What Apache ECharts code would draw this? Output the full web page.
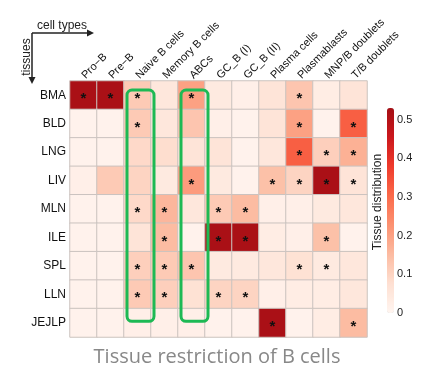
<!DOCTYPE html>
<html><head><meta charset="utf-8">
<script src="https://cdn.jsdelivr.net/npm/echarts@6/dist/echarts.min.js"></script>
<style>html,body{margin:0;padding:0;background:#fff}#c{width:421px;height:387px}</style>
</head><body><div id="c"></div>
<script>
const tissues = ['BMA','BLD','LNG','LIV','MLN','ILE','SPL','LLN','JEJLP'];
const cellTypes = ['Pro\u2212B','Pre\u2212B','Naive B cells','Memory B cells','ABCs','GC_B (I)','GC_B (II)','Plasma cells','Plasmablasts','MNP/B doublets','T/B doublets'];
// values per tissue (columns follow cellTypes)
const BMA   = [0.52,0.52,0.12,0.05,0.20,0.04,0.02,0.06,0.13,0.03,0.06];
const BLD   = [0.01,0.01,0.12,0.05,0.13,0.02,0.01,0.06,0.20,0.01,0.32];
const LNG   = [0.01,0.01,0.09,0.08,0.06,0.06,0.01,0.05,0.32,0.11,0.17];
const LIV   = [0.02,0.12,0.10,0.04,0.21,0.04,0.01,0.14,0.10,0.52,0.06];
const MLN   = [0.01,0.01,0.09,0.16,0.05,0.12,0.15,0.02,0.02,0.04,0.05];
const ILE   = [0.01,0.01,0.06,0.15,0.01,0.52,0.52,0.03,0.02,0.14,0.01];
const SPL   = [0.01,0.01,0.11,0.12,0.13,0.04,0.04,0.05,0.07,0.04,0.05];
const LLN   = [0.01,0.01,0.12,0.11,0.07,0.10,0.10,0.02,0.03,0.03,0.05];
const JEJLP = [0.01,0.01,0.02,0.02,0.02,0.01,0.01,0.52,0.01,0.03,0.15];
const values = [BMA,BLD,LNG,LIV,MLN,ILE,SPL,LLN,JEJLP];
// significant cells (column indices) per tissue
const stars = [[0,1,2,4,8],[2,8,10],[8,9,10],[4,7,8,9,10],[2,3,5,6],[3,5,6,9],[2,3,4,8,9],[2,3,5,6],[7,10]];
const colorbarTicks = [0,0.1,0.2,0.3,0.4,0.5];
const highlightCols = [2,4];

const data = [];
values.forEach((row,r)=>row.forEach((v,c)=>data.push([c,r,v])));
const starSet = new Set();
stars.forEach((cols,r)=>cols.forEach(c=>starSet.add(c+'_'+r)));

const FONT = 'Liberation Sans';
const chart = echarts.init(document.getElementById('c'));
const option = {
  animation:false,
  backgroundColor:'#fff',
  grid:[
    {left:70, top:81, width:297, height:256},
    {left:387, top:108, width:7, height:205}
  ],
  xAxis:[
    {type:'category', data:cellTypes, position:'top', gridIndex:0,
     axisLine:{show:false}, axisTick:{show:false}, splitLine:{show:false},
     axisLabel:{rotate:-45, interval:0, fontSize:11, color:'#111', fontFamily:FONT, margin:4}},
    {type:'value', gridIndex:1, show:false}
  ],
  yAxis:[
    {type:'category', data:tissues, inverse:true, gridIndex:0,
     axisLine:{show:false}, axisTick:{show:false}, splitLine:{show:false},
     axisLabel:{fontSize:12, color:'#111', fontFamily:FONT, margin:4}},
    {type:'value', gridIndex:1, position:'right', min:0, max:0.53, interval:0.1,
     axisLine:{show:false}, axisTick:{show:false}, splitLine:{show:false},
     axisLabel:{fontSize:11, color:'#222', fontFamily:FONT, margin:3, showMaxLabel:false,
       formatter:v=>{const t=colorbarTicks.find(x=>Math.abs(x-v)<1e-6);return t===undefined?'':String(t);}}}
  ],
  visualMap:{
    type:'continuous', min:0, max:0.53, seriesIndex:0, calculable:false,
    left:387, top:108, itemWidth:7, itemHeight:205, padding:0, text:['',''], showLabel:false,
    inRange:{color:['#fff5f0','#fee0d2','#fcbba1','#fc9272','#fb6a4a','#ef3b2c','#cb181d','#a50f15']}
  },
  series:[
    {type:'heatmap', data:data, xAxisIndex:0, yAxisIndex:0,
     itemStyle:{borderColor:'#cbc3bf', borderWidth:1},
     label:{show:true, formatter:p=>starSet.has(p.value[0]+'_'+p.value[1])?'*':'',
            fontSize:15, fontWeight:'bold', color:'#111', fontFamily:FONT, offset:[0,4]},
     emphasis:{disabled:true}},
    {type:'scatter', data:[], xAxisIndex:1, yAxisIndex:1}
  ],
  graphic:[
    {type:'line', shape:{x1:32,y1:33,x2:90,y2:33}, style:{stroke:'#222', lineWidth:1.5}},
    {type:'polygon', shape:{points:[[94,33],[87,29.5],[87,36.5]]}, style:{fill:'#222'}},
    {type:'line', shape:{x1:32,y1:33,x2:32,y2:80}, style:{stroke:'#222', lineWidth:1.5}},
    {type:'polygon', shape:{points:[[32,84],[28.5,77],[35.5,77]]}, style:{fill:'#222'}},
    {type:'text', x:37, y:26, style:{text:'cell types', fontSize:12, fontFamily:FONT, fill:'#222', textVerticalAlign:'middle'}},
    {type:'text', x:27, y:57, rotation:Math.PI/2, style:{text:'tissues', fontSize:12, fontFamily:FONT, fill:'#222', textAlign:'center', textVerticalAlign:'middle'}},
    {type:'text', x:378, y:202, rotation:Math.PI/2, style:{text:'Tissue distribution', fontSize:12, fontFamily:FONT, fill:'#222', textAlign:'center', textVerticalAlign:'middle'}},
    {type:'text', x:217, y:357, style:{text:'Tissue restriction of B cells', fontSize:20, fontFamily:'Open Sans', fill:'#888888', textAlign:'center', textVerticalAlign:'middle'}}
  ]
};
chart.setOption(option);
// green highlight boxes placed from axis scales
const p0 = chart.convertToPixel({xAxisIndex:0,yAxisIndex:0},[0,0]);
const p1 = chart.convertToPixel({xAxisIndex:0,yAxisIndex:0},[1,1]);
const cw = p1[0]-p0[0], ch = p1[1]-p0[1];
const boxes = highlightCols.map((c,i)=>{
  const top = chart.convertToPixel({xAxisIndex:0,yAxisIndex:0},[c,0]);
  const bot = chart.convertToPixel({xAxisIndex:0,yAxisIndex:0},[c,tissues.length-1]);
  const x = top[0]-cw/2+3, y = top[1]-ch/2+9;
  return {type:'rect', id:'box'+i, z:100,
    shape:{x:x, y:y, width:cw, height:(bot[1]-ch*0.05)-y, r:5},
    style:{fill:'none', stroke:'#1db954', lineWidth:3}};
});
chart.setOption({graphic:boxes});
</script></body></html>
